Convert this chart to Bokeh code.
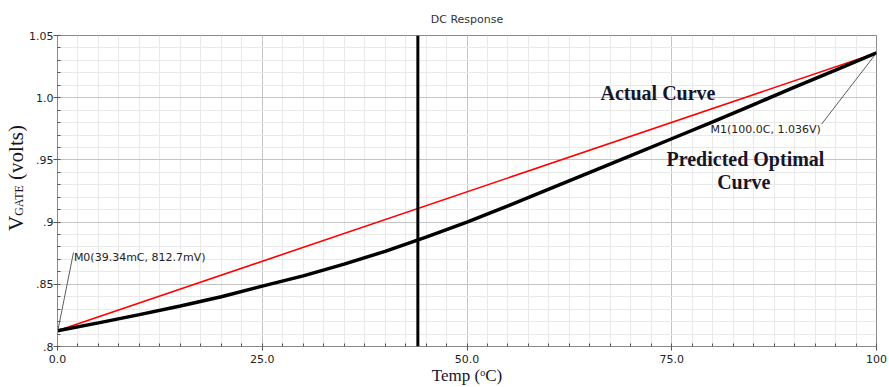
import numpy as np

from bokeh.embed import file_html
from bokeh.layouts import row
from bokeh.models import Div, FixedTicker, Label, Range1d, Span
from bokeh.plotting import figure
from bokeh.resources import INLINE

# Temperature sweep (deg C) and gate voltage (V)
temps = [0, 5, 10, 15, 20, 25, 30, 35, 40, 45, 50,
         55, 60, 65, 70, 75, 80, 85, 90, 95, 100]
volts_predicted = [0.8127, 0.8190, 0.8256, 0.8325, 0.8400, 0.8485, 0.8568,
                   0.8662, 0.8765, 0.8880, 0.9000, 0.9130, 0.9265, 0.9400,
                   0.9535, 0.9670, 0.9805, 0.9945, 1.0085, 1.0222, 1.0360]
temps_actual = [0.0, 100.0]
volts_actual = [0.8127, 1.0360]

# Axis ticks
x_ticks = [0, 25, 50, 75, 100]
x_tick_labels = ["0.0", "25.0", "50.0", "75.0", "100"]
y_ticks = [0.8, 0.85, 0.9, 0.95, 1.0, 1.05]
y_tick_labels = [".8", ".85", ".9", ".95", "1.0", "1.05"]

# Cursor and markers
cursor_temp = 44.0
m0_temp, m0_volt = 0.03934, 0.8127
m1_temp, m1_volt = 100.0, 1.036
m0_text = "M0(39.34mC, 812.7mV)"
m1_text = "M1(100.0C, 1.036V)"

SANS = "DejaVu Sans"
SERIF = "Liberation Serif"
INK = "#16162a"

STRIP_W = 26
W, H = 889, 387

p = figure(width=W - STRIP_W, height=H,
           x_range=Range1d(0, 100), y_range=Range1d(0.8, 1.05),
           output_backend="svg", toolbar_location=None,
           min_border_left=30, min_border_right=13,
           min_border_top=33, min_border_bottom=38)
p.background_fill_color = "white"
p.border_fill_color = "white"
p.outline_line_color = "#8a8a8a"

# Title
p.title.text = "DC Response"
p.title.align = "center"
p.title.offset = -22
p.title.text_font = SANS
p.title.text_font_size = "11px"
p.title.text_font_style = "normal"
p.title.text_color = "#333333"
p.title.standoff = 20

# Ticks and grids
p.xaxis.ticker = FixedTicker(ticks=x_ticks,
                             minor_ticks=list(np.arange(0, 100.001, 2.5)))
p.yaxis.ticker = FixedTicker(ticks=y_ticks,
                             minor_ticks=list(np.round(np.arange(0.8, 1.0501, 0.01), 3)))
p.xaxis.major_label_overrides = dict(zip(x_ticks, x_tick_labels))
p.yaxis.major_label_overrides = dict(zip(y_ticks, y_tick_labels))
for ax in (p.xaxis[0], p.yaxis[0]):
    ax.axis_line_color = "#8a8a8a"
    ax.major_tick_line_color = "#555555"
    ax.minor_tick_line_color = "#555555"
    ax.major_tick_in = 0
    ax.major_tick_out = 4
    ax.minor_tick_in = 3
    ax.minor_tick_out = 0
    ax.major_label_text_font = SANS
    ax.major_label_text_font_size = "11px"
    ax.major_label_text_color = "#222222"
p.xaxis.major_label_standoff = 4
p.yaxis.major_label_standoff = 0

p.xaxis.axis_label = "Temp (\u1d52C)"
p.xaxis.axis_label_text_font = SERIF
p.xaxis.axis_label_text_font_size = "17px"
p.xaxis.axis_label_text_font_style = "normal"
p.xaxis.axis_label_text_color = INK
p.xaxis.axis_label_standoff = 0

for g in (p.xgrid[0], p.ygrid[0]):
    g.grid_line_color = "#c4c4c4"
    g.minor_grid_line_color = "#e9e9e9"

# Curves
p.line(temps_actual, volts_actual, line_color="#ff0000", line_width=1.6)
p.line(temps, volts_predicted, line_color="black", line_width=3.5)
p.add_layout(Span(location=cursor_temp, dimension="height",
                  line_color="black", line_width=3))

# Marker leader lines and labels
p.segment(x0=[m0_temp], y0=[m0_volt], x1=[1.95], y1=[0.8755],
          line_color="#333333", line_width=0.8)
p.segment(x0=[m1_temp], y0=[m1_volt], x1=[93.3], y1=[0.9788],
          line_color="#333333", line_width=0.8)
p.add_layout(Label(x=2.0, y=0.8715, text=m0_text, text_font=SANS,
                   text_font_size="11px", text_color="#222222",
                   text_baseline="alphabetic"))
p.add_layout(Label(x=93.2, y=0.9743, text=m1_text, text_font=SANS,
                   text_font_size="11px", text_color="#222222",
                   text_align="right", text_baseline="alphabetic"))

# Curve captions
for txt, x, y, align in [("Actual Curve", 66.3, 1.0036, "left"),
                         ("Predicted Optimal", 84.0, 0.9506, "center"),
                         ("Curve", 83.8, 0.9322, "center")]:
    p.add_layout(Label(x=x, y=y, text=txt, text_font=SERIF,
                       text_font_size="20px", text_font_style="bold",
                       text_color=INK, text_align=align,
                       text_baseline="alphabetic"))

# Rotated y-axis title with a GATE subscript, set as HTML in a narrow column
ylabel_html = (
    '<div style="position:absolute; left:6px; top:231px; '
    'transform:rotate(-90deg); transform-origin:left top; white-space:nowrap; '
    f'line-height:1; font-family:\'{SERIF}\'; font-size:21px; color:{INK};">'
    'V<span style="font-size:12px;">GATE</span> (volts)</div>'
)
ylabel = Div(text=ylabel_html, width=STRIP_W, height=H, margin=0,
             styles={"overflow": "visible"})

layout = row(ylabel, p, spacing=0)
open("out.html", "w").write(file_html(layout, INLINE))
